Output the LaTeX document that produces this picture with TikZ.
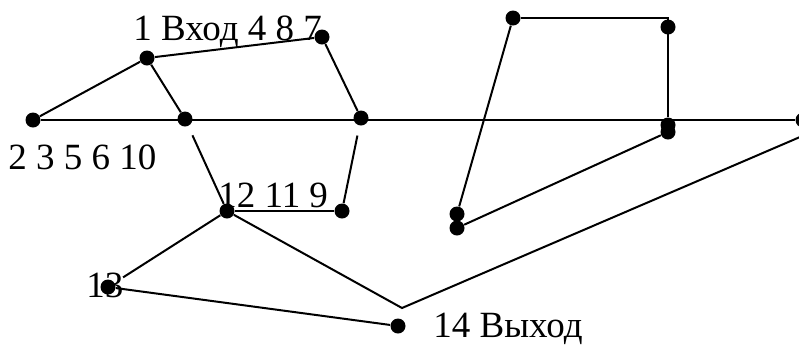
\documentclass[tikz,border=0pt]{standalone}
\usepackage{fontspec}
\setmainfont{Liberation Serif}
\usetikzlibrary{positioning}

\begin{document}
\begin{tikzpicture}[
    % GLOBAL CFG
    x=0.5pt, y=-0.5pt,
    font=\fontsize{18.5}{20}\selectfont,
    % Styles
    vertex/.style={% For the black dots
        circle,
        fill,
        minimum size=7.5pt,
        inner sep=0pt,
        },
    numlabel/.style={% For the vertex numbers
        inner sep=0pt,
        anchor=base west,
        },
    edge/.style={% For the connectors
        line width=1pt,
        },
    ]

    \useasboundingbox (0,0) rectangle (799,345);

    % Draw left part
    \node[vertex] (n2) at (33,120) {};
    \node[vertex] (n1) at (147,58) {};
    \node[vertex] (n3) at (185,119) {};
    \node[vertex] (n4) at (322,37) {};
    \node[vertex] (n5) at (361,118) {};
    \node[vertex] (n12) at (227,211) {};
    \node[vertex] (n9) at (342,211) {};
    \node[vertex] (n13) at (108,287) {};
    \node[vertex] (n14) at (398,326) {};
    \node[vertex] (nend) at (803,120) {};

    % Draw right part
    \node[vertex] (p) at (513,18) {};
    \node[vertex] (q) at (668,27) {};
    \node[vertex] (k1) at (668,125) {};
    \node[vertex] (k2) at (668,132) {};
    \node[vertex] (r1) at (457,214) {};
    \node[vertex] (r2) at (457,228) {};

    \coordinate (corner) at (668,18);
    \coordinate (apex) at (402,308);
    \coordinate (tail) at (800,137);

    % Labels
    \node[numlabel] (lab_in) at (133,40) {1 Вход 4 8 7};
    \node[numlabel] (lab_a) at (8,169) {2 3 5 6 10};
    \node[numlabel] (lab_f) at (218,207) {12 11 9};
    \node[numlabel] (lab_h) at (86,297) {13};
    \node[numlabel] (lab_out) at (433,337) {14 Выход};

% Start connecting all.
    \draw [edge] (n2) -- (n1);
    \draw [edge] (n1) -- (n4);
    \draw [edge] (n1) -- (n3);
    \draw [edge] (n4) -- (n5);
    \draw [edge] (n2) -- (nend);

    \draw [edge, shorten <=5pt] (n3) -- (n12);
    \draw [edge, shorten <=5pt] (n5) -- (n9);
    \draw [edge] (n12) -- (n9);
    \draw [edge, shorten >=5pt] (n12) -- (n13);
    \draw [edge] (n13) -- (n14);
    \draw [edge] (n12) -- (apex) -- (tail);

    % right loop
    \draw [edge] (p) -- (corner) -- (k1);
    \draw [edge] (p) -- (r1);
    \draw [edge] (r2) -- (k2);

\end{tikzpicture}
\end{document}
